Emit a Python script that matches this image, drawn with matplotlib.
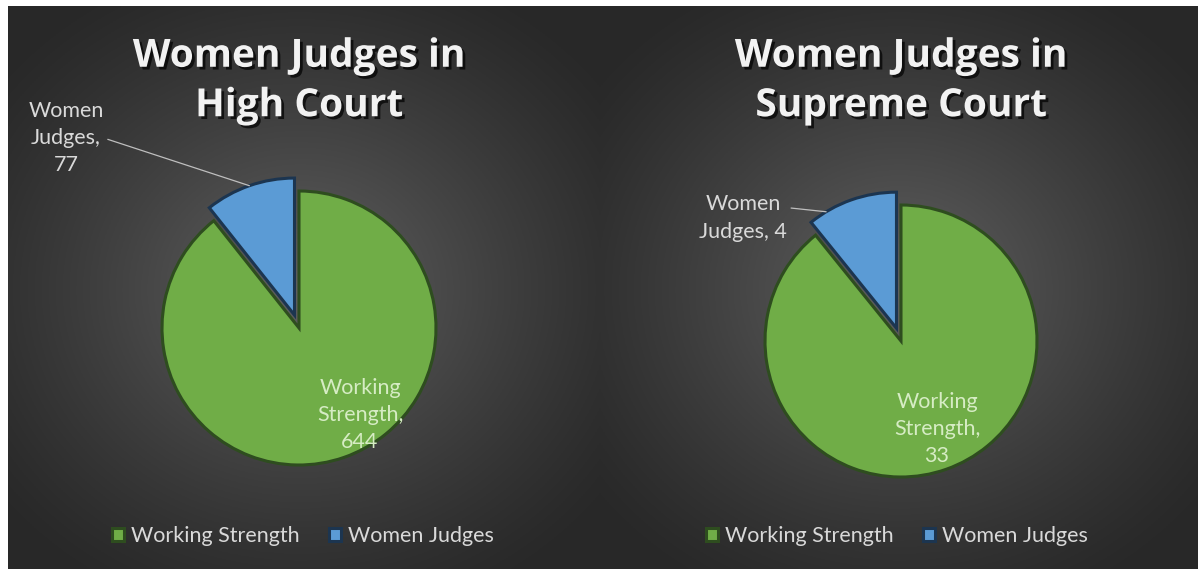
import numpy as np
import matplotlib
matplotlib.use('Agg')
import matplotlib.pyplot as plt
import matplotlib.patheffects as pe

W, H = 1198, 569
categories = ['Working Strength', 'Women Judges']
high_court = [644, 77]
supreme_court = [33, 4]
titles = ['Women Judges in\nHigh Court', 'Women Judges in\nSupreme Court']

GREEN = '#70ad47'
BLUE = '#5b9bd5'
EDGES = ['#2e4d1f', '#1c3550']
TXT = '#d9d9d9'
FONT = 'Lato'

fig = plt.figure(figsize=(W / 100, H / 100), dpi=100, facecolor='white')

# dark radial-gradient backdrop, one glow per panel
bg = fig.add_axes([8 / W, 0, 1 - 8 / W, 1 - 6 / H])
bg.set_axis_off()
xx, yy = np.meshgrid(np.linspace(8, W, 600), np.linspace(6, H, 300))
d1 = np.hypot((xx - 300) / 380, (yy - 290) / 340)
d2 = np.hypot((xx - 900) / 380, (yy - 290) / 340)
d = np.minimum(d1, d2)
shade = np.clip(1 - d, 0, 1) ** 1.2
lo, hi = np.array([0.16, 0.16, 0.16]), np.array([0.38, 0.38, 0.38])
img = lo + shade[..., None] * (hi - lo)
bg.imshow(img, extent=[0, 1, 0, 1], aspect='auto', origin='upper')


def pie_axes(cx, cy, r, span=1.6):
    s = 2 * r * span
    return fig.add_axes([(cx - s / 2) / W, (H - cy - s / 2) / H, s / W, s / H])


def draw(cx, cy, r, vals, title, lab_xy, lab_txt, rel, frac, ws_xy, leg_x):
    ax = pie_axes(cx, cy, r)
    wedges, _ = ax.pie(vals, colors=[GREEN, BLUE], startangle=90, counterclock=False,
                       explode=[0, 0.1], radius=1,
                       wedgeprops=dict(linewidth=2.2))
    for w, ec in zip(wedges, EDGES):
        w.set_edgecolor(ec)
    ax.set_xlim(-1.6, 1.6); ax.set_ylim(-1.6, 1.6)
    ax.set_aspect('equal'); ax.set_axis_off()

    # title
    fig.text(cx / W, 1 - 81 / H, title, ha='center', va='center', fontsize=28,
             fontweight='bold', family='Open Sans', color='#f2f2f2', linespacing=1.35,
             path_effects=[pe.withSimplePatchShadow(offset=(2, -2), shadow_rgbFace='black', alpha=0.7)])

    # women judges label with leader line
    wj = wedges[1]
    ang = np.deg2rad(wj.theta1 + frac * (wj.theta2 - wj.theta1))
    tip = (wj.center[0] + np.cos(ang), wj.center[1] + np.sin(ang))
    ax.annotate(lab_txt, xy=tip, xycoords='data',
                xytext=(lab_xy[0] / W, 1 - lab_xy[1] / H), textcoords='figure fraction',
                ha='center', va='center', fontsize=15.5, family=FONT, color=TXT,
                linespacing=1.45,
                arrowprops=dict(arrowstyle='-', color='#bfbfbf', lw=0.9, shrinkA=1, shrinkB=0,
                                relpos=rel))

    # working strength label
    fig.text(ws_xy[0] / W, 1 - ws_xy[1] / H, f'Working\nStrength,\n{vals[0]}',
             ha='center', va='center', fontsize=15.5, family=FONT, color='#d6ecc4',
             linespacing=1.45)

    ax.legend(wedges, categories, loc='center', bbox_to_anchor=(leg_x / W, 1 - 536 / H),
              bbox_transform=fig.transFigure, ncol=2, frameon=False,
              handlelength=0.55, handleheight=0.55, handletextpad=0.3, columnspacing=1.4,
              prop=dict(family=FONT, size=15.5), labelcolor=TXT)


draw(299, 328, 137, high_court, titles[0], (66, 138), f'Women\nJudges,\n{high_court[1]}',
     (1, 0.5), 0.5, (360, 415), 303)
draw(901, 341, 136, supreme_court, titles[1], (743, 218), f'Women\nJudges, {supreme_court[1]}',
     (1, 0.72), 0.8, (937, 429), 897)

fig.savefig('out.png', dpi=100, facecolor=fig.get_facecolor())
